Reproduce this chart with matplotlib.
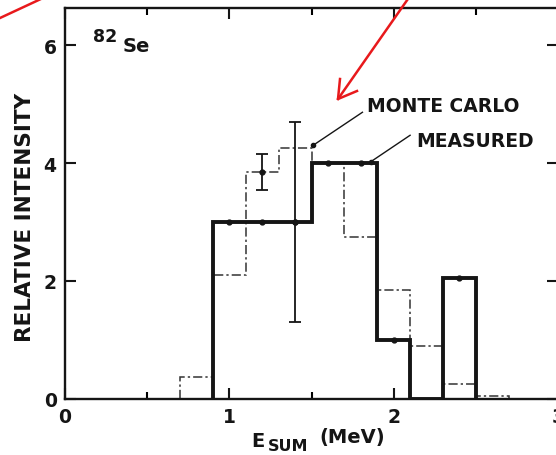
import matplotlib
matplotlib.use("Agg")
import matplotlib.pyplot as plt
from matplotlib.lines import Line2D
from matplotlib.ticker import MultipleLocator

# ---- data ----
meas_edges = [0.9, 1.1, 1.3, 1.5, 1.7, 1.9, 2.1, 2.3, 2.5]
meas_vals = [3.0, 3.0, 3.0, 4.0, 4.0, 1.0, 0.0, 2.05]
meas_dot_x = [1.0, 1.2, 1.4, 1.6, 1.8, 2.0, 2.4]
meas_dot_y = [3.0, 3.0, 3.0, 4.0, 4.0, 1.0, 2.05]

mc_edges = [0.7, 0.9, 1.1, 1.3, 1.5, 1.7, 1.9, 2.1, 2.3, 2.5, 2.7]
mc_vals = [0.38, 2.1, 3.85, 4.25, 4.0, 2.75, 1.85, 0.9, 0.25, 0.05]

err_x = [1.2, 1.4]
err_y = [3.85, 3.0]
err_e = [0.3, 1.7]

x_ticks = [0, 1, 2, 3]
x_ticklabels = ["0", "1", "2", "3"]
y_ticks = [0, 2, 4, 6]
y_ticklabels = ["0", "2", "4", "6"]

W, H = 556, 456
fig = plt.figure(figsize=(W / 100, H / 100), dpi=100)
fig.patch.set_facecolor("white")

def px(x, y):
    return x / W, 1 - y / H

left, right, top, bottom = 65, 558, 9, 400
ax = fig.add_axes([left / W, 1 - bottom / H, (right - left) / W, (bottom - top) / H])
ax.set_xlim(0, 3)
ax.set_ylim(0, (bottom - top) / 59.0)

ink = "#151515"
# Monte Carlo histogram (dash-dot)
ax.stairs(mc_vals, mc_edges, baseline=0, color="#333333", lw=1.1,
          linestyle=(0, (6, 2, 1.5, 2)), zorder=2)
# Measured histogram (thick)
ax.stairs(meas_vals, meas_edges, baseline=0, color=ink, lw=2.8, zorder=3)
ax.plot(meas_dot_x, meas_dot_y, "o", color=ink, ms=3.5, zorder=4)
ax.errorbar(err_x, err_y, yerr=err_e, fmt="o", color=ink, ms=3.5, lw=1.3,
            capsize=4, capthick=1.3, zorder=4)

# axes styling
for s in ax.spines.values():
    s.set_linewidth(1.7)
    s.set_color(ink)
ax.set_xticks(x_ticks)
ax.set_xticklabels(x_ticklabels)
ax.set_yticks(y_ticks)
ax.set_yticklabels(y_ticklabels)
ax.xaxis.set_minor_locator(MultipleLocator(0.5))
ax.tick_params(axis="both", which="major", direction="in", length=8, width=1.5,
               top=True, right=True, labelsize=13.5, pad=6, colors=ink)
ax.tick_params(axis="x", which="minor", direction="in", length=5, width=1.5,
               top=True, bottom=True)
for lab in ax.get_xticklabels() + ax.get_yticklabels():
    lab.set_fontweight("bold")

# annotations
ax.plot([1.51, 1.81], [4.30, 4.86], color=ink, lw=1.0)
ax.plot([1.51], [4.30], "o", color=ink, ms=3)
ax.plot([1.86, 2.10], [4.02, 4.47], color=ink, lw=1.0)
ax.plot([1.86], [4.02], "o", color=ink, ms=3)
fig.text(*px(367, 112), "MONTE CARLO", fontsize=13.5, fontweight="bold",
         color=ink, va="baseline", ha="left")
fig.text(*px(416, 147), "MEASURED", fontsize=13.5, fontweight="bold",
         color=ink, va="baseline", ha="left")

# isotope label
fig.text(*px(93, 42), "82", fontsize=12.5, fontweight="bold", color=ink,
         va="baseline", ha="left")
fig.text(*px(123, 52), "Se", fontsize=14, fontweight="bold", color=ink,
         va="baseline", ha="left")

# axis labels
fig.text(*px(25, 217), "RELATIVE INTENSITY", fontsize=15.5, fontweight="bold",
         color=ink, rotation=90, va="center", ha="center")
fig.text(*px(251, 447), "E", fontsize=14, fontweight="bold", color=ink,
         va="baseline", ha="left")
fig.text(*px(268, 451), "SUM", fontsize=11.5, fontweight="bold", color=ink,
         va="baseline", ha="left")
fig.text(*px(319, 443), "(MeV)", fontsize=14, fontweight="bold", color=ink,
         va="baseline", ha="left")

# red overlay marks
red = "#e8191c"
fig.add_artist(Line2D([0, 43 / W], [1 - 19 / H, 1 + 1 / H], color=red, lw=1.8,
                      transform=fig.transFigure))
fig.add_artist(Line2D([410 / W, 338 / W], [1 + 3 / H, 1 - 100 / H], color=red,
                      lw=1.8, transform=fig.transFigure))
fig.add_artist(Line2D([357 / W, 338 / W, 340 / W],
                      [1 - 92 / H, 1 - 100 / H, 1 - 80 / H], color=red, lw=1.8,
                      transform=fig.transFigure))

fig.savefig("out.png", dpi=100)
